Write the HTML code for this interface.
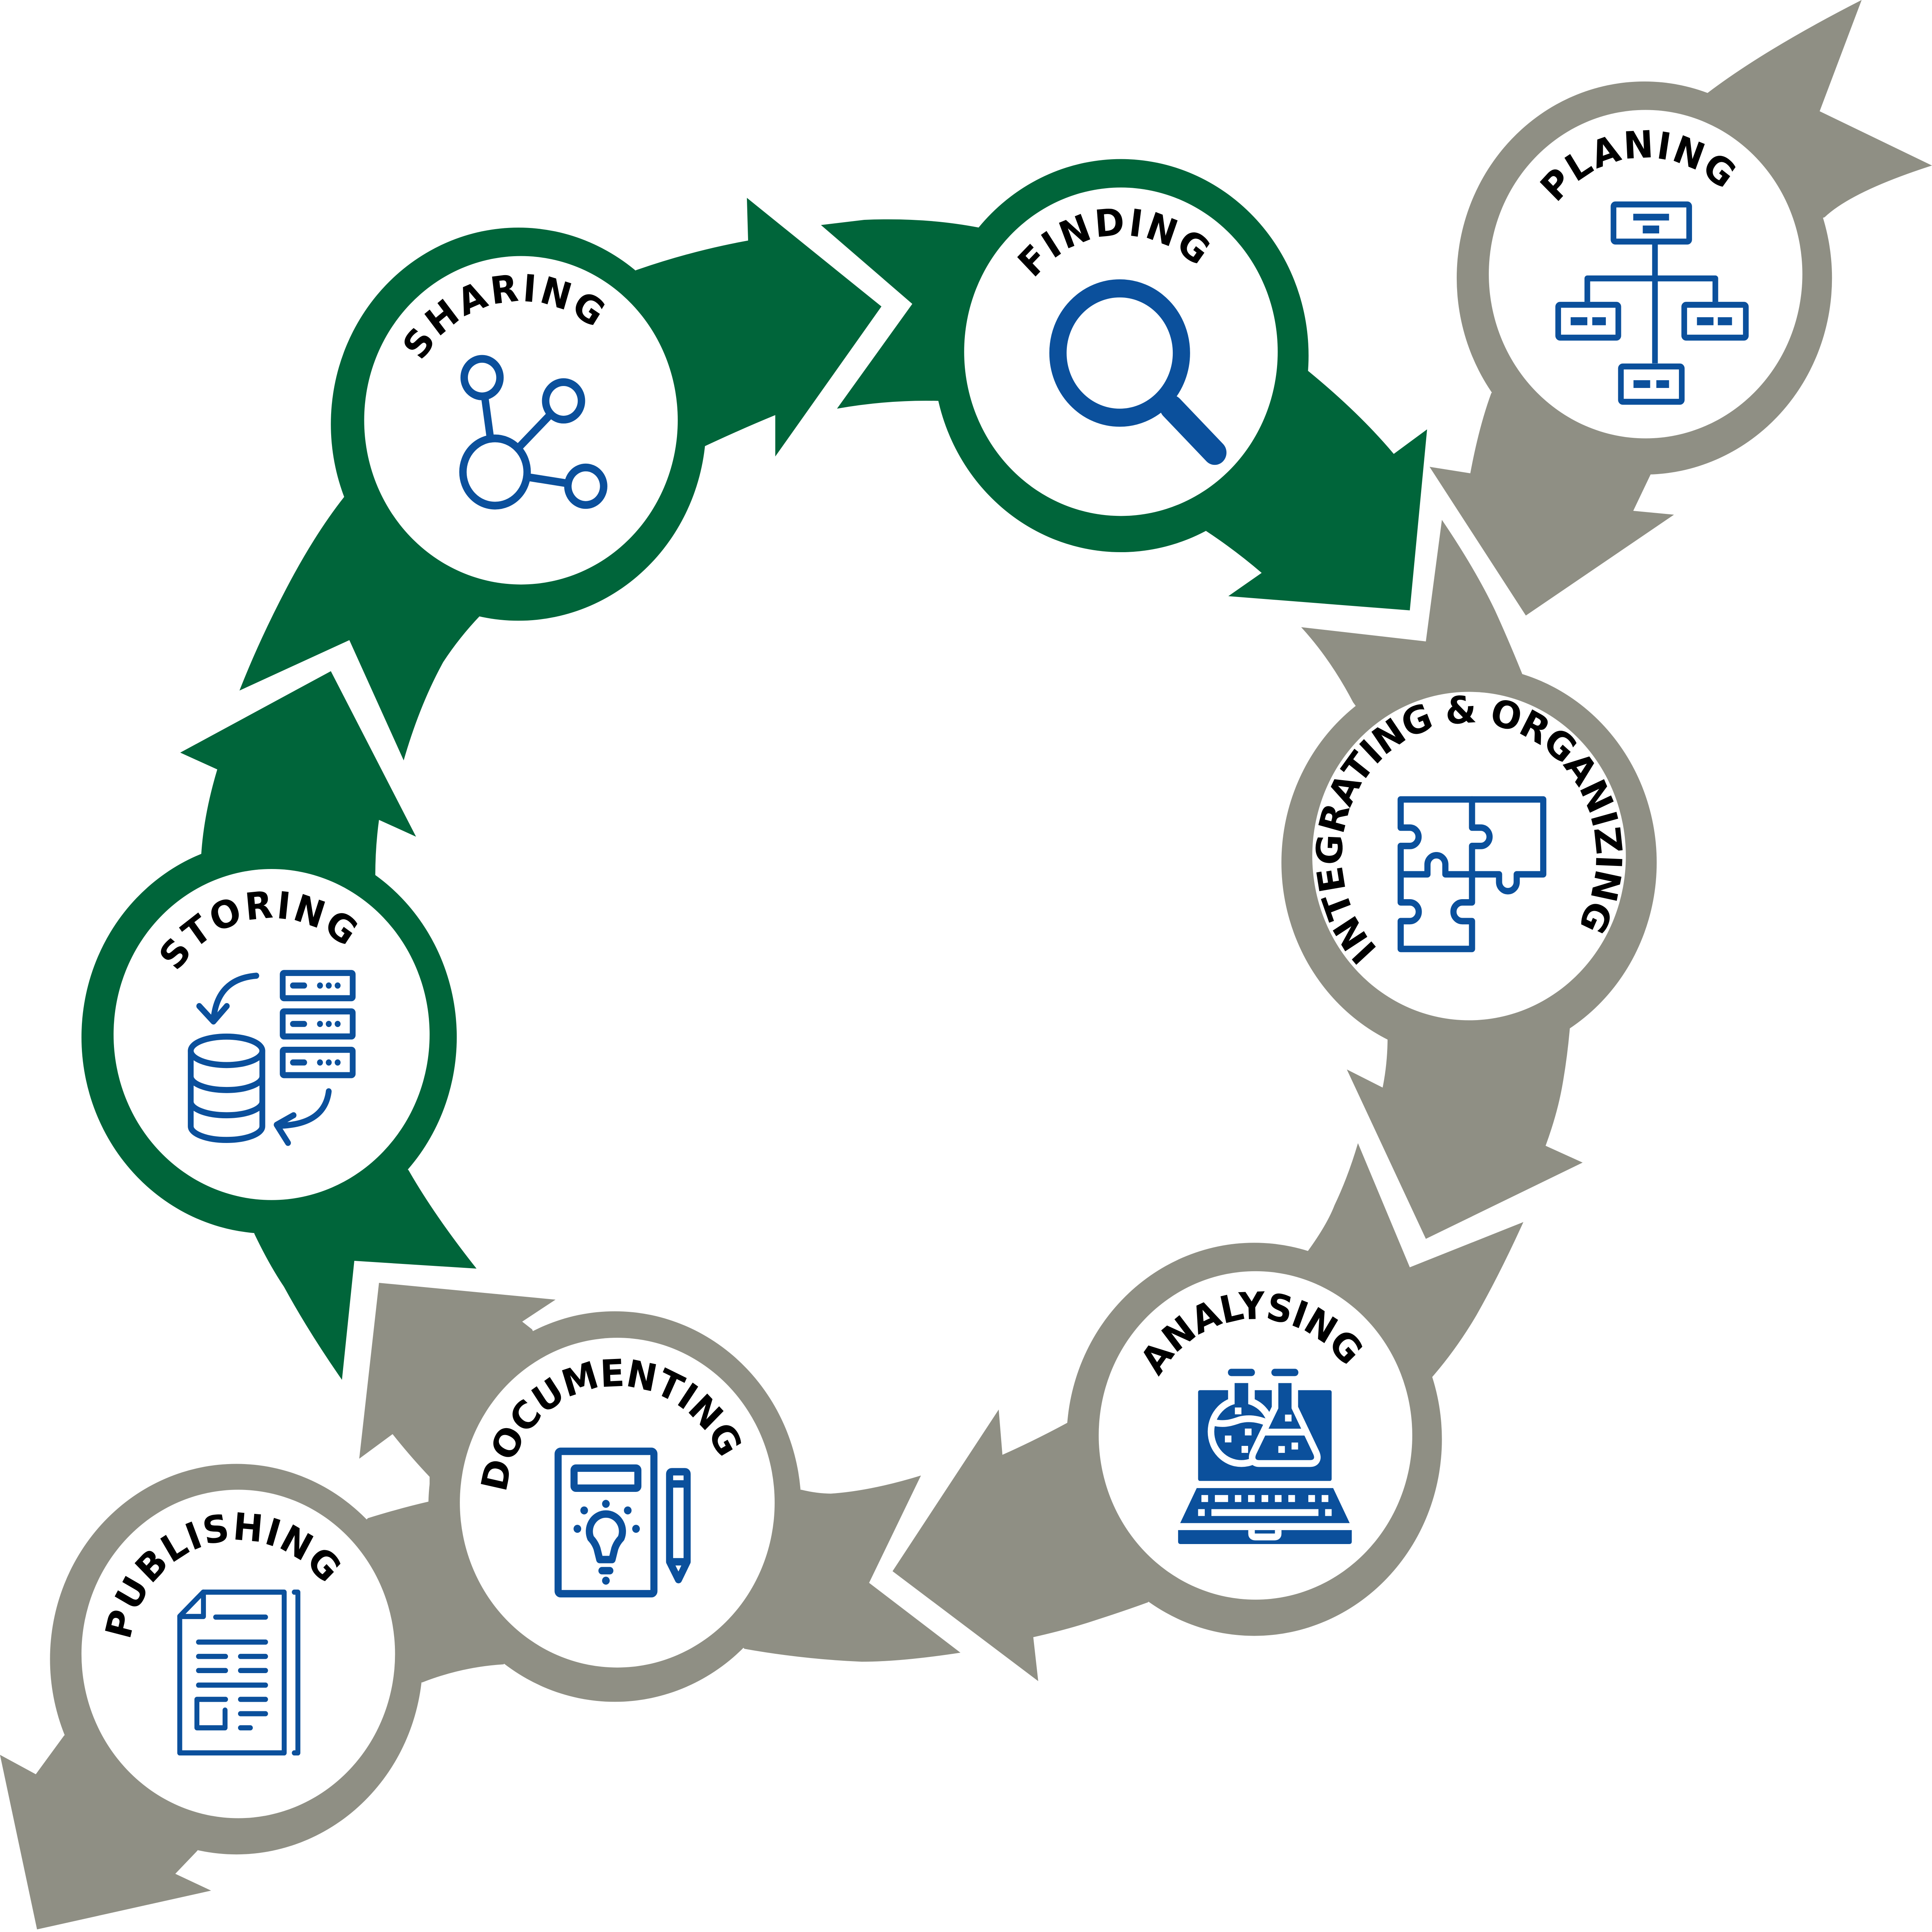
<!DOCTYPE html>
<html>
<head>
<meta charset="utf-8">
<style>
  html, body { margin: 0; padding: 0; background: #ffffff; width: 100%; height: 100%; overflow: hidden; }
  svg { display: block; width: 100vw; height: 100vh; }
  .lbl { font-family: "DejaVu Sans", "Liberation Sans", sans-serif; font-weight: bold; font-size: 29px; fill: #000; }
</style>
</head>
<body>
<svg xmlns="http://www.w3.org/2000/svg" viewBox="0 0 1565 1494" preserveAspectRatio="none">
  <defs>
    <path id="tPlan" d="M1323.6,301.5 A90,90 0 1 1 1354.8,299.3"/>
    <path id="tFind" d="M897.8,361.4 A90,90 0 1 1 929,359.5"/>
    <path id="tShar" d="M422,417 A92,92 0 1 1 453.5,411.5"/>
    <path id="tStor" d="M216.1,889.9 A90,90 0 1 1 247.1,885.8"/>
    <path id="tInte" d="M1183.9,764.8 A103,103 0 1 1 1219.4,760.7"/>
    <path id="tAnal" d="M1006,1199.3 A90,90 0 1 1 1037.2,1197.7"/>
    <path id="tDocu" d="M497.9,1252 A90,90 0 1 1 528.8,1247.3"/>
    <path id="tPubl" d="M200.7,1366.7 A88,88 0 1 1 230.2,1358.8"/>
  </defs>

  <rect x="0" y="0" width="1565" height="1494" fill="#ffffff"/>

  <!-- ===== GRAY shapes ===== -->
  <g fill="#8f8f84">
    <!-- Planing -->
    <circle cx="1332" cy="215" r="152"/>
    <path d="M1383,72 Q1430,38 1508,0 L1474,86 L1565,128 Q1500,148 1478,168 L1332,215 Z"/>
    <path d="M1208,304 Q1198,330 1191,366 L1158,361 L1236,476 L1356,398 L1323,395 L1337,367 L1332,215 Z"/>
    <!-- Integrating -->
    <circle cx="1190" cy="667" r="152"/>
    <path d="M1096,543 Q1078,510 1054,485 L1155,496 L1168,402 Q1195,440 1211,472 Q1222,495 1233,521 L1190,667 Z"/>
    <path d="M1124,802 Q1124,822 1120,841 L1091,827 L1155,958 L1282,899 L1252,886 Q1262,860 1266,837 Q1270,815 1272,791 L1190,667 Z"/>
    <!-- Analysing -->
    <circle cx="1016" cy="1113" r="152"/>
    <path d="M1059,968 Q1075,947 1081,932 Q1092,910 1100,884 L1142,980 L1234,945 Q1215,985 1196,1017 Q1180,1043 1160,1065 L1016,1113 Z"/>
    <path d="M865,1100 Q840,1113 812,1125 L809,1090 L723,1215 L841,1300 L837,1266 Q865,1260 887,1253 Q910,1246 930,1239 L1016,1113 Z"/>
    <!-- Documenting -->
    <circle cx="498" cy="1165" r="151"/>
    <path d="M649,1152 Q662,1155 673,1155 Q705,1153 746,1141 L704,1224 L778,1278 Q730,1285 698,1285 Q650,1283 603,1275 L498,1165 Z"/>
    <path d="M431,1028 L423,1022 L450,1005 L307,992 L291,1128 L318,1109 Q333,1127 348,1142 L348,1161 L498,1165 Z"/>
    <path d="M298,1174 Q325,1166 348,1161 L498,1165 L408,1287 Q374,1289 342,1301 L192,1283 Z"/>
    <!-- Publishing -->
    <circle cx="191.5" cy="1283" r="151"/>
    <path d="M52,1342 L29,1372 L0,1357 L30,1492 L171,1462 L142,1449 L160,1431 L191.5,1283 Z"/>
  </g>

  <!-- ===== GREEN shapes ===== -->
  <g fill="#00653a">
    <!-- Finding -->
    <circle cx="908" cy="275" r="152"/>
    <path d="M793,176 Q750,168 700,170 L665,174 L739,235 L678,316 Q720,309 760,310 L908,275 Z"/>
    <path d="M1056,284 Q1100,318 1129,351 L1156,332 L1142,472 L995,461 L1022,443 Q1000,425 976,410 L908,275 Z"/>
    <!-- Sharing -->
    <circle cx="420" cy="328" r="152"/>
    <path d="M515,209 Q560,194 606,186 L605,153 L714,237 L628,353 L628,321 Q600,332 571,345 L420,328 Z"/>
    <path d="M279,384 Q255,413 232,455 Q210,495 194,534 L283,495 L327,588 Q340,545 359,512 Q372,493 389,476 L420,328 Z"/>
    <!-- Storing -->
    <circle cx="218" cy="802" r="152"/>
    <path d="M163,661 Q165,630 176,595 L146,582 L268,519 L337,647 L307,634 Q304,655 304,677 L218,802 Z"/>
    <path d="M206,954 Q218,978 230,995 Q250,1030 277,1067 L287,975 L386,981 Q352,940 331,905 L218,802 Z"/>
  </g>

  <!-- ===== white inner circles ===== -->
  <g fill="#ffffff">
    <circle cx="1333" cy="212" r="127"/>
    <circle cx="908" cy="272" r="127"/>
    <circle cx="422" cy="325" r="127"/>
    <circle cx="220" cy="800" r="128"/>
    <circle cx="1190" cy="662" r="127"/>
    <circle cx="1017" cy="1110" r="127"/>
    <circle cx="500" cy="1162" r="127.5"/>
    <circle cx="193" cy="1279" r="127"/>
  </g>

  <!-- ===== Labels ===== -->
  <text class="lbl" style="letter-spacing:1.2px"><textPath href="#tPlan" startOffset="50%" text-anchor="middle">PLANING</textPath></text>
  <text class="lbl" style="letter-spacing:1.9px"><textPath href="#tFind" startOffset="50%" text-anchor="middle">FINDING</textPath></text>
  <text class="lbl" style="letter-spacing:2.1px"><textPath href="#tShar" startOffset="50%" text-anchor="middle">SHARING</textPath></text>
  <text class="lbl" style="letter-spacing:1.7px"><textPath href="#tStor" startOffset="50%" text-anchor="middle">STORING</textPath></text>
  <text class="lbl" style="letter-spacing:-0.6px"><textPath href="#tInte" startOffset="50%" text-anchor="middle">INTEGRATING &amp; ORGANIZING</textPath></text>
  <text class="lbl" style="letter-spacing:-0.5px"><textPath href="#tAnal" startOffset="50%" text-anchor="middle">ANALYSING</textPath></text>
  <text class="lbl" style="letter-spacing:-0.4px"><textPath href="#tDocu" startOffset="50%" text-anchor="middle">DOCUMENTING</textPath></text>
  <text class="lbl" style="letter-spacing:1.0px"><textPath href="#tPubl" startOffset="50%" text-anchor="middle">PUBLISHING</textPath></text>

  <!-- ===== Icons ===== -->
  <!-- Sharing: network -->
  <g fill="none" stroke="#0b509c" stroke-width="6" stroke-linecap="round">
    <circle cx="401" cy="365" r="26"/>
    <circle cx="390.5" cy="292" r="14.5"/>
    <circle cx="456.5" cy="310" r="14.5"/>
    <circle cx="474.5" cy="376" r="14.5"/>
    <line x1="392.6" y1="306.4" x2="397.3" y2="339.3"/>
    <line x1="446.2" y1="320.2" x2="419.5" y2="346.8"/>
    <line x1="460.2" y1="373.9" x2="426.7" y2="368.8"/>
  </g>

  <!-- Finding: magnifier -->
  <g fill="none" stroke="#0b509c">
    <circle cx="907" cy="273" r="50" stroke-width="14"/>
    <line x1="949" y1="315" x2="984" y2="350" stroke-width="19" stroke-linecap="round"/>
  </g>

  <!-- Planing: org chart -->
  <g fill="none" stroke="#0b509c" stroke-width="4.6" stroke-linejoin="round">
    <rect x="1307" y="158.1" width="61.3" height="28.7" rx="1.5"/>
    <rect x="1262.2" y="235.7" width="48.7" height="25.4" rx="1.5"/>
    <rect x="1364.3" y="235.7" width="49.9" height="25.4" rx="1.5"/>
    <rect x="1313" y="283.4" width="49.3" height="27.3" rx="1.5"/>
    <path d="M1340.6,189 V281 M1285.8,233.4 V215.3 H1389.5 V233.4"/>
  </g>
  <g fill="#0b509c">
    <rect x="1323" y="165.3" width="29" height="5.2"/>
    <rect x="1330.7" y="174.4" width="13.3" height="6.1"/>
    <rect x="1272.3" y="245.3" width="13.5" height="6.2"/>
    <rect x="1289.8" y="245.3" width="11" height="6.2"/>
    <rect x="1374.6" y="245.3" width="13.4" height="6.2"/>
    <rect x="1391.5" y="245.3" width="11.5" height="6.2"/>
    <rect x="1323.2" y="294" width="13.5" height="6"/>
    <rect x="1341.7" y="294" width="10.3" height="6"/>
  </g>

  <!-- Storing: database + servers -->
  <g fill="none" stroke="#0b509c" stroke-width="4.7" stroke-linecap="round" stroke-linejoin="round">
    <rect x="229" y="752.4" width="56.7" height="19.5" rx="1"/>
    <rect x="229" y="782.1" width="56.7" height="19.4" rx="1"/>
    <rect x="229" y="811.8" width="56.7" height="19.6" rx="1"/>
    <line x1="237.3" y1="762.1" x2="246.4" y2="762.1"/>
    <line x1="237.3" y1="791.8" x2="246.4" y2="791.8"/>
    <line x1="237.3" y1="821.6" x2="246.4" y2="821.6"/>
    <ellipse cx="183.5" cy="812.6" rx="29" ry="11"/>
    <path d="M154.5,812.6 V871 A29,10.5 0 0 0 212.5,871 V812.6 M154.5,832.4 A29,10.5 0 0 0 212.5,832.4 M154.5,851.9 A29,10.5 0 0 0 212.5,851.9"/>
    <path d="M207.6,754.5 Q176,757 173,788"/>
    <path d="M161.4,778 L172.9,789.9 L183.7,778"/>
    <path d="M266.3,843.9 Q263,869 228,870.5"/>
    <path d="M237.8,862.4 L224.1,869.8 L233.3,883.8"/>
  </g>
  <g fill="#0b509c">
    <circle cx="259.2" cy="762.1" r="2.4"/><circle cx="266.3" cy="762.1" r="2.4"/><circle cx="273.5" cy="762.1" r="2.4"/>
    <circle cx="259.2" cy="791.8" r="2.4"/><circle cx="266.3" cy="791.8" r="2.4"/><circle cx="273.5" cy="791.8" r="2.4"/>
    <circle cx="259.2" cy="821.6" r="2.4"/><circle cx="266.3" cy="821.6" r="2.4"/><circle cx="273.5" cy="821.6" r="2.4"/>
  </g>

  <!-- Integrating: puzzle -->
  <g fill="none" stroke="#0b509c" stroke-width="5" stroke-linejoin="round" stroke-linecap="round">
    <path d="M1134.6,618.2 H1250.1 V676.1 H1228.6 V682 A7.15,7.15 0 0 1 1214.3,682 V676.1 H1192.4 V697.8 H1184.6 A7.25,7.25 0 0 0 1184.6,712.3 H1192.4 V733.8 H1134.6 V712.3 H1142 A7.25,7.25 0 0 0 1142,697.8 H1134.6 V654.2 H1142 A7.1,7.1 0 0 0 1142,640 H1134.6 Z"/>
    <path d="M1192.4,618.2 V640 H1199.5 A7.1,7.1 0 0 1 1199.5,654.2 H1192.4 V676.1"/>
    <path d="M1134.6,676.1 H1156.3 V668.6 A7.25,7.25 0 0 1 1170.8,668.6 V676.1 H1192.4"/>
  </g>

  <!-- Analysing: laptop with flasks -->
  <g>
    <rect x="970.5" y="1075" width="108.2" height="70.2" rx="1.5" fill="#0b509c"/>
    <circle cx="1005.6" cy="1107.1" r="27.3" fill="#ffffff"/>
    <rect x="994.8" y="1064" width="21.6" height="26" fill="#ffffff"/>
    <circle cx="1005.6" cy="1107.1" r="22" fill="#0b509c"/>
    <rect x="1000.1" y="1069.5" width="11" height="22" fill="#0b509c"/>
    <path d="M983,1100 C992,1102 998,1100 1004,1098 C1010,1096.5 1017,1096.5 1026,1100" fill="none" stroke="#ffffff" stroke-width="5.2"/>
    <g fill="#ffffff">
      <rect x="1000.3" y="1088.4" width="5.3" height="5.3"/>
      <rect x="1008.4" y="1104.7" width="5.4" height="5.3"/>
      <rect x="992.2" y="1110.1" width="5.3" height="5.3"/>
      <rect x="1005.7" y="1118.1" width="5.3" height="5.4"/>
    </g>
    <path d="M1035.5,1069.5 H1046.2 V1089.1 L1063.8,1124.5 Q1066,1129.1 1061,1129.1 H1020 Q1015.5,1129.1 1017.6,1124.5 L1035.5,1089.1 Z" fill="#ffffff" stroke="#ffffff" stroke-width="10.6" stroke-linejoin="round"/>
    <path d="M1035.5,1069.5 H1046.2 V1089.1 L1063.8,1124.5 Q1066,1129.1 1061,1129.1 H1020 Q1015.5,1129.1 1017.6,1124.5 L1035.5,1089.1 Z" fill="#0b509c"/>
    <g fill="#ffffff">
      <rect x="1022" y="1104.8" width="38" height="5.3"/>
      <rect x="1040.9" y="1093.9" width="5.3" height="5.3"/>
      <rect x="1035.5" y="1118.2" width="5.3" height="5.3"/>
      <rect x="1046.2" y="1115.5" width="5.3" height="5.4"/>
    </g>
    <g stroke="#0b509c" stroke-width="5.7" stroke-linecap="round">
      <line x1="997.5" y1="1061.3" x2="1013.7" y2="1061.3"/>
      <line x1="1032.7" y1="1061.3" x2="1048.9" y2="1061.3"/>
    </g>
    <path d="M969.4,1150.7 H1079.9 L1093.3,1177.8 H956 Z" fill="#0b509c"/>
    <g fill="#ffffff">
      <rect x="973.2" y="1156.1" width="5.4" height="5.4"/>
      <rect x="984.1" y="1156.1" width="10.7" height="5.4"/>
      <rect x="1000.3" y="1156.1" width="5.2" height="5.4"/>
      <rect x="1011" y="1156.1" width="5.4" height="5.4"/>
      <rect x="1021.9" y="1156.1" width="5.4" height="5.4"/>
      <rect x="1032.7" y="1156.1" width="5.4" height="5.4"/>
      <rect x="1043.6" y="1156.1" width="5.4" height="5.4"/>
      <rect x="1059.8" y="1156.1" width="5.4" height="5.4"/>
      <rect x="1070.6" y="1156.1" width="5.4" height="5.4"/>
      <rect x="970.5" y="1167" width="5.4" height="5.3"/>
      <rect x="981.3" y="1167" width="86.7" height="5.3"/>
      <rect x="1073.4" y="1167" width="5.3" height="5.3"/>
    </g>
    <path d="M954.3,1183.2 H1095 V1192 Q1095,1194 1093,1194 H956.3 Q954.3,1194 954.3,1192 Z" fill="#0b509c"/>
    <path d="M1013.8,1183.2 V1186 Q1013.8,1188.5 1017,1188.5 H1032.2 Q1035.4,1188.5 1035.4,1186 V1183.2" fill="none" stroke="#ffffff" stroke-width="5.3"/>
  </g>

  <!-- Documenting: document with bulb + pencil -->
  <g fill="none" stroke="#0b509c" stroke-width="5.75" stroke-linecap="round" stroke-linejoin="round">
    <rect x="452.1" y="1122.3" width="77.6" height="110.1" rx="2"/>
    <rect x="465" y="1135.3" width="51.7" height="15.5" rx="1.5"/>
    <path d="M485.8,1206 L483.6,1197.5 Q482,1193 478.5,1189.5 A13.4,13.4 0 1 1 503.1,1189.5 Q499.6,1193 498,1197.5 L495.8,1206 Z"/>
    <line x1="487.6" y1="1214.6" x2="494" y2="1214.6"/>
    <path d="M542.4,1207.7 V1140 Q542.4,1138.1 544.4,1138.1 H554.6 Q556.6,1138.1 556.6,1140 V1207.7 L549.6,1221.5 Z M542.4,1147.5 H556.6 M542.4,1207.7 H556.6"/>
  </g>
  <g fill="#0b509c">
    <circle cx="490.8" cy="1222.3" r="3.1"/>
    <circle cx="490.8" cy="1162.9" r="3.1"/>
    <circle cx="473.2" cy="1168" r="3.1"/>
    <circle cx="508.5" cy="1168" r="3.1"/>
    <circle cx="467.7" cy="1182.2" r="3.1"/>
    <circle cx="515.2" cy="1182.2" r="3.1"/>
  </g>

  <!-- Publishing: newspaper -->
  <g fill="none" stroke="#0b509c" stroke-width="4" stroke-linecap="round" stroke-linejoin="round">
    <path d="M145.6,1249.8 L164.6,1231.2 H230.2 V1355.5 H145.6 Z"/>
    <path d="M164.8,1231.2 V1250 H145.6"/>
    <path d="M238.4,1231.2 H241.3 V1355.5 H238.4"/>
    <path d="M174.7,1250.5 H215.1 M160.8,1269.8 H215.1 M160.8,1280.9 H182.7 M194.8,1280.9 H215.1 M160.8,1291.8 H182.7 M194.8,1291.8 H215.1 M160.8,1303.1 H215.1"/>
    <path d="M182.7,1314.1 H159.5 V1336.1 H182.3 V1322.4"/>
    <path d="M194.8,1314.1 H215.1 M194.8,1325.2 H215.1 M194.8,1336.1 H202.8"/>
  </g>
</svg>
</body>
</html>
